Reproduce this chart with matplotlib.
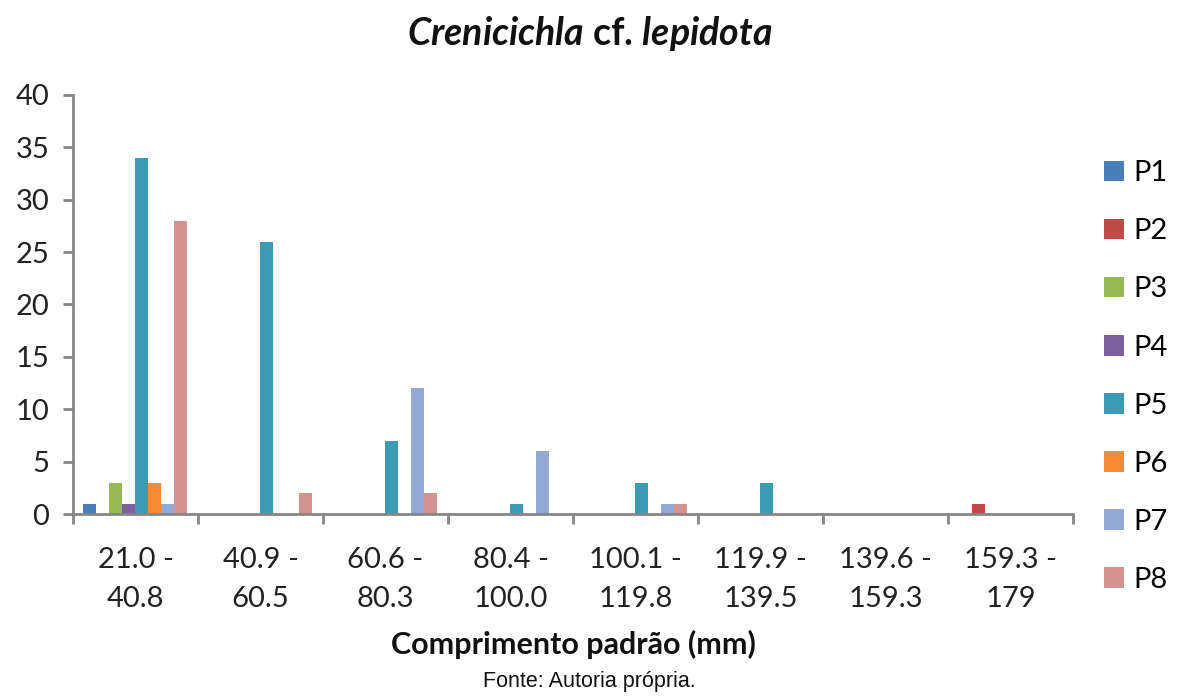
import numpy as np
import matplotlib
matplotlib.use("Agg")
import matplotlib.pyplot as plt

# size classes (mm)
classes = ["21.0 -\n40.8", "40.9 -\n60.5", "60.6 -\n80.3", "80.4 -\n100.0",
           "100.1 -\n119.8", "119.9 -\n139.5", "139.6 -\n159.3", "159.3 -\n179"]
series_names = ["P1", "P2", "P3", "P4", "P5", "P6", "P7", "P8"]

# counts per class, one list per site
P1 = [1, 0, 0, 0, 0, 0, 0, 0]
P2 = [0, 0, 0, 0, 0, 0, 0, 1]
P3 = [3, 0, 0, 0, 0, 0, 0, 0]
P4 = [1, 0, 0, 0, 0, 0, 0, 0]
P5 = [34, 26, 7, 1, 3, 3, 0, 0]
P6 = [3, 0, 0, 0, 0, 0, 0, 0]
P7 = [1, 0, 12, 6, 1, 0, 0, 0]
P8 = [28, 2, 2, 0, 1, 0, 0, 0]
series = [P1, P2, P3, P4, P5, P6, P7, P8]

colors = ["#4a7ebb", "#be4b48", "#98b954", "#7d60a0", "#3d9ab4",
          "#f58a32", "#93a9d3", "#d49291"]

plt.rcParams['font.family'] = ['Lato', 'DejaVu Sans']
plt.rcParams['mathtext.fontset'] = 'custom'
plt.rcParams['mathtext.it'] = 'Lato:italic:bold'
plt.rcParams['mathtext.rm'] = 'Lato:bold'

fig = plt.figure(figsize=(11.79, 6.98), dpi=100)
ax = fig.add_axes([0.0619, 0.2636, 0.8482, 0.6004])

x = np.arange(len(classes))
bw = 0.104
for i, (name, vals) in enumerate(zip(series_names, series)):
    offs = (i - 3.5) * bw
    ax.bar(x + offs, vals, width=bw, color=colors[i], label=name)

axis_col = "#868686"
txt_col = "#222222"
ax.set_xlim(-0.5, len(classes) - 0.5)
ax.set_ylim(0, 40)
ax.set_yticks(np.arange(0, 41, 5))
ax.set_xticks(x)
ax.set_xticklabels(classes, fontsize=21, color=txt_col, linespacing=1.6)
ax.set_xticks(np.arange(-0.5, len(classes), 1), minor=True)
ax.tick_params(axis='x', which='major', length=0, pad=24)
ax.tick_params(axis='x', which='minor', length=7, width=2, color=axis_col)
ax.tick_params(axis='y', length=7, width=2, color=axis_col, labelsize=21,
               labelcolor=txt_col, pad=10)
for s in ["top", "right"]:
    ax.spines[s].set_visible(False)
for s in ["left", "bottom"]:
    ax.spines[s].set_color(axis_col)
    ax.spines[s].set_linewidth(2)

ax.set_xlabel("Comprimento padrão (mm)", fontsize=22, fontweight="bold",
              color="#111111", labelpad=13)

fig.text(0.5, 0.952, r"$Crenicichla$ cf. $lepidota$", ha="center", va="center",
         fontsize=27, fontweight="bold", color="#111111")
fig.text(0.5, 0.023, "Fonte: Autoria própria.", ha="center", va="center",
         fontsize=15.5, family="Liberation Sans", color="#111111")

leg = fig.legend(loc="upper left", bbox_to_anchor=(0.914, 0.808), frameon=False,
                 fontsize=21, handlelength=0.7, handleheight=0.7,
                 handletextpad=0.3, labelspacing=1.1)

fig.savefig("out.png", dpi=100)
